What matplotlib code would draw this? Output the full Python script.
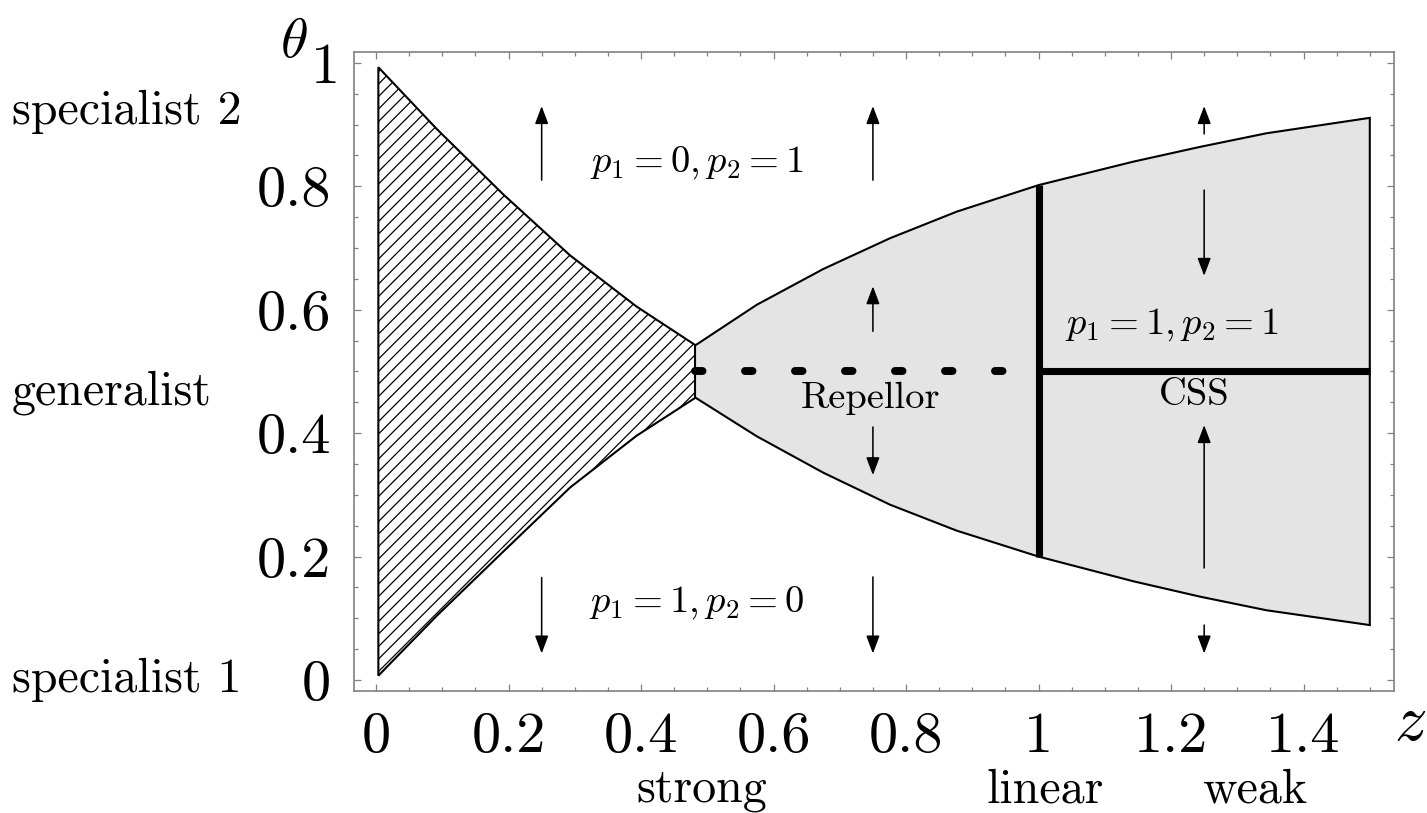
import matplotlib
matplotlib.use("Agg")
import matplotlib.pyplot as plt
from matplotlib.transforms import blended_transform_factory, ScaledTranslation

plt.rcParams["mathtext.fontset"] = "cm"
plt.rcParams["hatch.linewidth"] = 0.6
plt.rcParams["lines.scale_dashes"] = False
plt.rcParams["axes.formatter.use_mathtext"] = True

# ---- data -------------------------------------------------------------
# boundary of the hatched (strong trade-off) region
hatch_z = [0.0035, 0.0916, 0.192, 0.293, 0.3935, 0.4815]
hatch_top = [0.993, 0.893, 0.787, 0.688, 0.605, 0.543]
hatch_bottom = [0.007, 0.104, 0.208, 0.312, 0.396, 0.457]

# boundary of the grey region where both strategies coexist
band_z = [0.4815, 0.5746, 0.675, 0.776, 0.8765, 1.0, 1.143, 1.244, 1.344, 1.5]
band_top = [0.542, 0.608, 0.666, 0.716, 0.759, 0.802, 0.840, 0.864, 0.886, 0.911]
band_bottom = [0.458, 0.395, 0.336, 0.284, 0.242, 0.200, 0.160, 0.135, 0.113, 0.089]

generalist_theta = 0.5
linear_z = 1.0

# direction-of-selection arrows: (z, tail, tip)
arrow_z = [0.25, 0.25, 0.75, 0.75, 0.75, 0.75, 1.25, 1.25, 1.25, 1.25]
arrow_tail = [0.810, 0.166, 0.810, 0.565, 0.410, 0.167, 0.885, 0.794, 0.1815, 0.089]
arrow_tip = [0.930, 0.043, 0.930, 0.638, 0.332, 0.043, 0.930, 0.655, 0.413, 0.043]

x_ticks = [0, 0.2, 0.4, 0.6, 0.8, 1.0, 1.2, 1.4]
x_tick_labels = ["0", "0.2", "0.4", "0.6", "0.8", "1", "1.2", "1.4"]
y_ticks = [0, 0.2, 0.4, 0.6, 0.8, 1.0]
y_tick_labels = ["0", "0.2", "0.4", "0.6", "0.8", "1"]

# ---- figure -----------------------------------------------------------
DPI = 150
fig = plt.figure(figsize=(1427 / DPI, 813 / DPI), dpi=DPI)
ax = fig.add_axes([0.2481, 0.1501, 0.7288, 0.7860])
ax.set_xlim(-0.0332, 1.5366)
ax.set_ylim(-0.0178, 1.0178)

ax.fill(hatch_z + hatch_z[::-1], hatch_top + hatch_bottom[::-1],
        facecolor="white", edgecolor="black", hatch="////", linewidth=1.0, zorder=2)
ax.fill(band_z + band_z[::-1], band_top + band_bottom[::-1],
        facecolor="#e4e4e4", edgecolor="black", linewidth=1.0, zorder=2)

# repellor (dashed) and CSS (solid) branches
ax.plot([band_z[0], linear_z], [generalist_theta, generalist_theta], color="black",
        lw=3.8, dashes=(3.6, 20.4), dash_capstyle="round", zorder=3)
ax.plot([linear_z, band_z[-1]], [generalist_theta, generalist_theta], color="black",
        lw=3.4, solid_capstyle="butt", zorder=3)
i_lin = band_z.index(linear_z)
ax.plot([linear_z, linear_z], [band_bottom[i_lin], band_top[i_lin]], color="black",
        lw=3.4, solid_capstyle="butt", zorder=4)

for z, t0, t1 in zip(arrow_z, arrow_tail, arrow_tip):
    ax.annotate("", xy=(z, t1), xytext=(z, t0),
                arrowprops=dict(arrowstyle="-|>,head_length=0.45,head_width=0.17",
                                mutation_scale=16, lw=0.75, color="black",
                                shrinkA=0, shrinkB=0), zorder=5)

inner = dict(fontsize=18.5, color="black", zorder=6)
ax.text(0.4845, 0.824, r"$p_1=0, p_2=1$", ha="center", va="baseline", **inner)
ax.text(0.4845, 0.1107, r"$p_1=1, p_2=0$", ha="center", va="baseline", **inner)
ax.text(1.201, 0.5618, r"$p_1=1, p_2=1$", ha="center", va="baseline", **inner)
ax.text(0.7457, 0.441, "Repellor", ha="center", va="baseline", family="cmr10", **inner)
ax.text(1.235, 0.446, "CSS", ha="center", va="baseline", family="cmr10", **inner)

# axes frame and ticks
ax.set_xticks(x_ticks)
ax.set_xticklabels(x_tick_labels, family="cmr10", fontsize=28)
ax.set_yticks(y_ticks)
ax.set_yticklabels(y_tick_labels, family="cmr10", fontsize=28)
ax.set_xticks([i * 0.05 for i in range(31)], minor=True)
ax.set_yticks([i * 0.05 for i in range(21)], minor=True)
ax.tick_params(which="both", direction="in", top=True, right=True,
               color="#808080", width=0.6)
ax.tick_params(which="major", length=3.3)
ax.tick_params(which="minor", length=2.0)
ax.tick_params(axis="x", which="major", pad=10)
ax.tick_params(axis="y", which="major", pad=11)
for s in ax.spines.values():
    s.set_color("#808080")
    s.set_linewidth(0.8)

# the top label "1" sits just right of the theta symbol
top_label = ax.get_yticklabels()[-1]
top_label.set_transform(top_label.get_transform()
                        + ScaledTranslation(9 / DPI, 0, fig.dpi_scale_trans))

# axis names
fig.text(294 / 1427, 1 - 42 / 813, r"$\theta$", fontsize=27, ha="center", va="center")
fig.text(1410 / 1427, 1 - 722 / 813, r"$z$", fontsize=31, ha="center", va="center")

side = dict(fontsize=23, family="cmr10", ha="left", va="center")
fig.text(12 / 1427, 1 - 112 / 813, "specialist 2", **side)
fig.text(12 / 1427, 1 - 393 / 813, "generalist", **side)
fig.text(12 / 1427, 1 - 680 / 813, "specialist 1", **side)

trans = blended_transform_factory(ax.transData, ax.transAxes)
for z, word in [(0.492, "strong"), (1.010, "linear"), (1.327, "weak")]:
    ax.text(z, -0.155, word, transform=trans, fontsize=23, family="cmr10",
            ha="center", va="center")

fig.savefig("out.png", dpi=DPI)
